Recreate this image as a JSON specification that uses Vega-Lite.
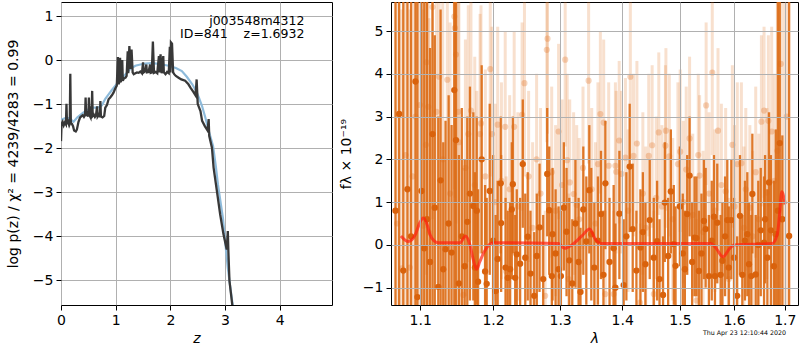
{
"$schema": "https://vega.github.io/schema/vega-lite/v6.json",
"background": "white",
"padding": {"left": 5, "top": 1, "right": 0, "bottom": 0},
"bounds": "flush",
"spacing": 59,
"config": {
 "font": "DejaVu Sans",
 "view": {"stroke": "black", "strokeWidth": 1},
 "axis": {"domain": false, "grid": true, "gridColor": "#b0b0b0", "gridWidth": 1, "tickColor": "black", "tickSize": 5, "tickWidth": 1, "labelFontSize": 14, "labelColor": "black", "labelPadding": 3, "titleFontSize": 14, "titleFontWeight": "normal", "titleColor": "black", "labelFlush": false, "labelOverlap": false}
},
"datasets": {
 "blue": [
  {"z":0.00,"lp":-1.35},{"z":0.08,"lp":-1.32},{"z":0.15,"lp":-1.32},{"z":0.23,"lp":-1.40},{"z":0.30,"lp":-1.30},{"z":0.40,"lp":-1.20},{"z":0.50,"lp":-1.12},{"z":0.57,"lp":-1.08},{"z":0.65,"lp":-1.08},{"z":0.72,"lp":-1.06},{"z":0.75,"lp":-1.02},{"z":0.81,"lp":-0.88},{"z":0.87,"lp":-0.78},{"z":0.93,"lp":-0.68},{"z":0.99,"lp":-0.59},{"z":1.08,"lp":-0.45},{"z":1.18,"lp":-0.32},{"z":1.27,"lp":-0.20},{"z":1.36,"lp":-0.13},{"z":1.45,"lp":-0.10},{"z":1.54,"lp":-0.08},{"z":1.65,"lp":-0.07},{"z":1.75,"lp":-0.08},{"z":1.85,"lp":-0.10},{"z":1.97,"lp":-0.13},{"z":2.10,"lp":-0.18},{"z":2.21,"lp":-0.25},{"z":2.30,"lp":-0.38},{"z":2.40,"lp":-0.55},{"z":2.47,"lp":-0.70},{"z":2.52,"lp":-0.85},{"z":2.58,"lp":-1.05},{"z":2.64,"lp":-1.31},{"z":2.70,"lp":-1.60},{"z":2.78,"lp":-1.95},{"z":2.83,"lp":-2.40},{"z":2.87,"lp":-2.83},{"z":2.92,"lp":-3.25},{"z":2.96,"lp":-3.58},{"z":3.00,"lp":-4.10},{"z":3.05,"lp":-4.72},{"z":3.10,"lp":-5.20},{"z":3.16,"lp":-5.75}
 ],
 "pz": [
  {"z":0.00,"lp":-1.84},{"z":0.01,"lp":-1.45},{"z":0.03,"lp":-1.40},{"z":0.05,"lp":-1.48},{"z":0.07,"lp":-1.42},{"z":0.09,"lp":-1.46},{"z":0.10,"lp":-0.99},{"z":0.11,"lp":-1.45},{"z":0.13,"lp":-1.40},{"z":0.15,"lp":-1.48},{"z":0.16,"lp":-1.45},{"z":0.17,"lp":-0.31},{"z":0.18,"lp":-1.42},{"z":0.20,"lp":-1.45},{"z":0.22,"lp":-1.50},{"z":0.24,"lp":-1.60},{"z":0.27,"lp":-1.62},{"z":0.29,"lp":-1.58},{"z":0.32,"lp":-1.40},{"z":0.35,"lp":-1.30},{"z":0.38,"lp":-1.27},{"z":0.40,"lp":-1.25},{"z":0.42,"lp":-1.29},{"z":0.44,"lp":-1.25},{"z":0.45,"lp":-0.85},{"z":0.46,"lp":-1.27},{"z":0.48,"lp":-1.22},{"z":0.50,"lp":-1.28},{"z":0.51,"lp":-0.85},{"z":0.52,"lp":-1.25},{"z":0.54,"lp":-1.30},{"z":0.55,"lp":-1.05},{"z":0.56,"lp":-1.26},{"z":0.57,"lp":-0.70},{"z":0.58,"lp":-1.27},{"z":0.60,"lp":-1.24},{"z":0.62,"lp":-1.29},{"z":0.64,"lp":-1.25},{"z":0.66,"lp":-1.05},{"z":0.67,"lp":-1.28},{"z":0.69,"lp":-1.24},{"z":0.71,"lp":-1.29},{"z":0.72,"lp":-0.93},{"z":0.73,"lp":-1.28},{"z":0.76,"lp":-1.30},{"z":0.79,"lp":-1.27},{"z":0.81,"lp":-1.08},{"z":0.84,"lp":-1.02},{"z":0.87,"lp":-0.89},{"z":0.90,"lp":-0.85},{"z":0.93,"lp":-0.80},{"z":0.96,"lp":-0.74},{"z":0.99,"lp":-0.65},{"z":1.02,"lp":-0.58},{"z":1.04,"lp":0.07},{"z":1.05,"lp":-0.55},{"z":1.07,"lp":-0.50},{"z":1.08,"lp":0.05},{"z":1.09,"lp":-0.50},{"z":1.11,"lp":-0.45},{"z":1.12,"lp":0.00},{"z":1.13,"lp":-0.47},{"z":1.15,"lp":-0.42},{"z":1.18,"lp":-0.40},{"z":1.20,"lp":-0.36},{"z":1.22,"lp":0.20},{"z":1.23,"lp":-0.30},{"z":1.25,"lp":0.32},{"z":1.27,"lp":-0.20},{"z":1.29,"lp":0.24},{"z":1.31,"lp":-0.28},{"z":1.33,"lp":-0.32},{"z":1.36,"lp":-0.30},{"z":1.39,"lp":-0.28},{"z":1.42,"lp":-0.29},{"z":1.45,"lp":-0.26},{"z":1.48,"lp":-0.30},{"z":1.50,"lp":-0.05},{"z":1.51,"lp":-0.28},{"z":1.54,"lp":-0.25},{"z":1.56,"lp":-0.10},{"z":1.57,"lp":-0.28},{"z":1.60,"lp":-0.27},{"z":1.63,"lp":-0.10},{"z":1.64,"lp":-0.29},{"z":1.66,"lp":-0.28},{"z":1.68,"lp":0.42},{"z":1.70,"lp":-0.29},{"z":1.73,"lp":-0.27},{"z":1.76,"lp":-0.30},{"z":1.79,"lp":0.09},{"z":1.80,"lp":-0.28},{"z":1.82,"lp":0.13},{"z":1.84,"lp":-0.30},{"z":1.87,"lp":0.09},{"z":1.88,"lp":-0.28},{"z":1.91,"lp":-0.32},{"z":1.94,"lp":-0.27},{"z":1.97,"lp":-0.30},{"z":1.99,"lp":0.30},{"z":2.00,"lp":-0.28},{"z":2.01,"lp":0.40},{"z":2.03,"lp":0.37},{"z":2.05,"lp":-0.28},{"z":2.07,"lp":-0.32},{"z":2.10,"lp":-0.36},{"z":2.15,"lp":-0.40},{"z":2.20,"lp":-0.44},{"z":2.27,"lp":-0.47},{"z":2.33,"lp":-0.55},{"z":2.37,"lp":-0.63},{"z":2.42,"lp":-0.72},{"z":2.46,"lp":-0.80},{"z":2.48,"lp":-0.44},{"z":2.50,"lp":-1.00},{"z":2.55,"lp":-1.16},{"z":2.58,"lp":-1.38},{"z":2.63,"lp":-1.50},{"z":2.68,"lp":-1.60},{"z":2.70,"lp":-1.34},{"z":2.71,"lp":-1.72},{"z":2.76,"lp":-1.99},{"z":2.79,"lp":-2.44},{"z":2.85,"lp":-2.97},{"z":2.91,"lp":-3.50},{"z":2.97,"lp":-3.95},{"z":3.01,"lp":-4.18},{"z":3.03,"lp":-4.30},{"z":3.05,"lp":-3.88},{"z":3.06,"lp":-4.33},{"z":3.08,"lp":-5.01},{"z":3.13,"lp":-5.54},{"z":3.16,"lp":-5.90}
 ],
 "light": [
  {"l":1.07,"f":0.5,"lo":-5.5,"hi":6.5},{"l":1.076,"f":-0.55,"lo":-6.5,"hi":5.5},{"l":1.081,"f":2.1,"lo":-3.9,"hi":8.1},{"l":1.0865,"f":-0.53,"lo":-6.5,"hi":5.5},{"l":1.09,"f":1.6,"lo":-4.4,"hi":7.6},{"l":1.0938,"f":3,"lo":-3,"hi":9},{"l":1.0996,"f":3.27,"lo":-2.7,"hi":9.3},{"l":1.104,"f":0.45,"lo":-4.5,"hi":5.5},{"l":1.1075,"f":2.34,"lo":-2.7,"hi":7.3},{"l":1.1083,"f":4.27,"lo":-0.7,"hi":9.3},{"l":1.1106,"f":3.23,"lo":-1.8,"hi":8.2},{"l":1.1115,"f":0.29,"lo":-4.7,"hi":5.3},{"l":1.1163,"f":5.56,"lo":0.6,"hi":10.6},{"l":1.1216,"f":3.11,"lo":-0.9,"hi":7.1},{"l":1.1252,"f":3.93,"lo":-0.1,"hi":7.9},{"l":1.13,"f":2,"lo":-2,"hi":6},{"l":1.1362,"f":3.86,"lo":-0.1,"hi":7.9},{"l":1.14,"f":1.2,"lo":-2.8,"hi":5.2},{"l":1.1457,"f":5.34,"lo":1.3,"hi":9.3},{"l":1.1465,"f":5.07,"lo":1.1,"hi":9.1},{"l":1.148,"f":4.45,"lo":0.5,"hi":8.5},{"l":1.1512,"f":3.11,"lo":-0.9,"hi":7.1},{"l":1.152,"f":2.4,"lo":-1.6,"hi":6.4},{"l":1.1581,"f":-1.17,"lo":-4.2,"hi":1.8},{"l":1.161,"f":1.8,"lo":-1.2,"hi":4.8},{"l":1.165,"f":2.59,"lo":-0.4,"hi":5.6},{"l":1.1687,"f":3.14,"lo":0.1,"hi":6.1},{"l":1.174,"f":1.4,"lo":-1.6,"hi":4.4},{"l":1.1768,"f":0.78,"lo":-2,"hi":3.6},{"l":1.1815,"f":2.59,"lo":-0.2,"hi":5.4},{"l":1.1828,"f":2.84,"lo":0,"hi":5.6},{"l":1.189,"f":1.6,"lo":-0.9,"hi":4.1},{"l":1.196,"f":4.11,"lo":1.6,"hi":6.6},{"l":1.1985,"f":2.59,"lo":0.1,"hi":5.1},{"l":1.203,"f":1,"lo":-1.3,"hi":3.3},{"l":1.2066,"f":2.81,"lo":0.5,"hi":5.1},{"l":1.212,"f":1.5,"lo":-0.8,"hi":3.8},{"l":1.2175,"f":2.76,"lo":0.6,"hi":5},{"l":1.219,"f":-0.62,"lo":-2.8,"hi":1.6},{"l":1.224,"f":1.3,"lo":-0.9,"hi":3.5},{"l":1.2306,"f":2.76,"lo":0.6,"hi":5},{"l":1.236,"f":0.9,"lo":-1.3,"hi":3.1},{"l":1.2423,"f":3.04,"lo":0.8,"hi":5.2},{"l":1.2458,"f":3.78,"lo":1.6,"hi":6},{"l":1.252,"f":1.6,"lo":-0.4,"hi":3.6},{"l":1.258,"f":0.4,"lo":-1.6,"hi":2.4},{"l":1.264,"f":2,"lo":0,"hi":4},{"l":1.27,"f":1.2,"lo":-0.8,"hi":3.2},{"l":1.277,"f":-1.19,"lo":-3.2,"hi":0.8},{"l":1.2795,"f":4.56,"lo":2.4,"hi":6.8},{"l":1.2806,"f":4.82,"lo":2.6,"hi":7},{"l":1.287,"f":1.7,"lo":-0.3,"hi":3.7},{"l":1.293,"f":0.8,"lo":-1.2,"hi":2.8},{"l":1.2976,"f":2.65,"lo":0.6,"hi":4.7},{"l":1.303,"f":1.4,"lo":-0.6,"hi":3.4},{"l":1.3079,"f":4.33,"lo":2.3,"hi":6.3},{"l":1.311,"f":1.98,"lo":0,"hi":4},{"l":1.3132,"f":-0.8,"lo":-2.8,"hi":1.2},{"l":1.315,"f":1.46,"lo":-0.4,"hi":3.4},{"l":1.3211,"f":1.19,"lo":-0.7,"hi":3.1},{"l":1.326,"f":0.93,"lo":-1,"hi":2.8},{"l":1.33,"f":0.6,"lo":-1.3,"hi":2.5},{"l":1.336,"f":1.8,"lo":-0.1,"hi":3.7},{"l":1.345,"f":3.84,"lo":1.9,"hi":5.7},{"l":1.35,"f":1.3,"lo":-0.6,"hi":3.2},{"l":1.356,"f":0.5,"lo":-1.4,"hi":2.4},{"l":1.36,"f":1.89,"lo":0,"hi":3.8},{"l":1.364,"f":3.06,"lo":1.2,"hi":5},{"l":1.3694,"f":2.86,"lo":1,"hi":4.8},{"l":1.3722,"f":-1.15,"lo":-3,"hi":0.8},{"l":1.3776,"f":1.85,"lo":0,"hi":3.8},{"l":1.3858,"f":-1.15,"lo":-3,"hi":0.8},{"l":1.3887,"f":1.85,"lo":0,"hi":3.8},{"l":1.39,"f":1.71,"lo":-0.2,"hi":3.6},{"l":1.395,"f":2.44,"lo":0.5,"hi":4.3},{"l":1.3988,"f":1.66,"lo":-0.2,"hi":3.6},{"l":1.4054,"f":2.04,"lo":0.1,"hi":3.9},{"l":1.41,"f":0.8,"lo":-1.1,"hi":2.7},{"l":1.4137,"f":3.93,"lo":2,"hi":5.8},{"l":1.419,"f":2.08,"lo":0.2,"hi":4},{"l":1.4248,"f":2.37,"lo":0.5,"hi":4.3},{"l":1.43,"f":-1.35,"lo":-3.2,"hi":0.5},{"l":1.435,"f":1.2,"lo":-0.7,"hi":3.1},{"l":1.44,"f":0.4,"lo":-1.5,"hi":2.3},{"l":1.4451,"f":2.08,"lo":0.2,"hi":4},{"l":1.451,"f":2.33,"lo":0.4,"hi":4.2},{"l":1.4538,"f":-1.15,"lo":-3,"hi":0.8},{"l":1.458,"f":1.1,"lo":-0.8,"hi":3},{"l":1.4625,"f":2.63,"lo":0.7,"hi":4.5},{"l":1.468,"f":0.9,"lo":-1,"hi":2.8},{"l":1.4742,"f":2.32,"lo":0.4,"hi":4.2},{"l":1.475,"f":2.67,"lo":0.8,"hi":4.6},{"l":1.481,"f":2.07,"lo":0.2,"hi":4},{"l":1.487,"f":0.6,"lo":-1.3,"hi":2.5},{"l":1.4963,"f":1.89,"lo":0,"hi":3.8},{"l":1.5004,"f":2.18,"lo":0.3,"hi":4.1},{"l":1.506,"f":1,"lo":-0.9,"hi":2.9},{"l":1.5112,"f":1.76,"lo":-0.1,"hi":3.7},{"l":1.5173,"f":2.49,"lo":0.6,"hi":4.4},{"l":1.523,"f":0.7,"lo":-1.2,"hi":2.6},{"l":1.53,"f":-1.3,"lo":-3.2,"hi":0.6},{"l":1.5331,"f":2.1,"lo":0.2,"hi":4},{"l":1.5356,"f":1.62,"lo":-0.3,"hi":3.5},{"l":1.542,"f":0.3,"lo":-1.6,"hi":2.2},{"l":1.5476,"f":3.26,"lo":1.4,"hi":5.2},{"l":1.553,"f":1.2,"lo":-0.7,"hi":3.1},{"l":1.559,"f":4.03,"lo":2.1,"hi":5.9},{"l":1.564,"f":0.8,"lo":-1.1,"hi":2.7},{"l":1.5697,"f":2.67,"lo":0.8,"hi":4.6},{"l":1.576,"f":1.4,"lo":-0.5,"hi":3.3},{"l":1.5841,"f":1.25,"lo":-0.6,"hi":3.2},{"l":1.59,"f":-0.8,"lo":-2.7,"hi":1.1},{"l":1.5968,"f":2.34,"lo":0.4,"hi":4.2},{"l":1.601,"f":0.9,"lo":-1,"hi":2.8},{"l":1.6063,"f":1.89,"lo":0,"hi":3.8},{"l":1.6141,"f":1.91,"lo":0,"hi":3.8},{"l":1.619,"f":0.4,"lo":-1.5,"hi":2.3},{"l":1.6226,"f":1.3,"lo":-0.6,"hi":3.2},{"l":1.6305,"f":0.87,"lo":-1,"hi":2.8},{"l":1.636,"f":0.2,"lo":-1.8,"hi":2.2},{"l":1.642,"f":1.7,"lo":-0.3,"hi":3.7},{"l":1.648,"f":0.6,"lo":-1.4,"hi":2.6},{"l":1.6532,"f":2.88,"lo":0.9,"hi":4.9},{"l":1.6584,"f":3.14,"lo":1.1,"hi":5.1},{"l":1.664,"f":1.22,"lo":-0.8,"hi":3.2},{"l":1.667,"f":2.9,"lo":0.9,"hi":4.9},{"l":1.6736,"f":2.65,"lo":0.2,"hi":5.1},{"l":1.679,"f":1.5,"lo":-1,"hi":4},{"l":1.685,"f":2.2,"lo":-2.8,"hi":7.2},{"l":1.6918,"f":4.23,"lo":-1.8,"hi":10.2},{"l":1.698,"f":1,"lo":-5,"hi":7},{"l":1.704,"f":3,"lo":-3,"hi":9}
 ],
 "dark": [
  {"l":1.068,"f":0.8,"lo":-7.2,"hi":8.8},{"l":1.0727,"f":3.06,"lo":-5,"hi":11},{"l":1.078,"f":-0.6,"lo":-8.6,"hi":7.4},{"l":1.0834,"f":1.3,"lo":-6.7,"hi":9.3},{"l":1.088,"f":0.2,"lo":-7.8,"hi":8.2},{"l":1.0938,"f":3.82,"lo":-4.2,"hi":11.8},{"l":1.0964,"f":-1.22,"lo":-9.2,"hi":6.8},{"l":1.1017,"f":1.26,"lo":-4.7,"hi":7.3},{"l":1.1053,"f":-0.08,"lo":-6.1,"hi":5.9},{"l":1.109,"f":0.6,"lo":-5.4,"hi":6.6},{"l":1.113,"f":-0.4,"lo":-5.4,"hi":4.6},{"l":1.1163,"f":2.59,"lo":-2.4,"hi":7.6},{"l":1.1193,"f":0.87,"lo":-3.1,"hi":4.9},{"l":1.124,"f":-0.98,"lo":-5,"hi":3},{"l":1.1271,"f":1.51,"lo":-2.5,"hi":5.5},{"l":1.1307,"f":-0.57,"lo":-3.6,"hi":2.4},{"l":1.1338,"f":-0.1,"lo":-3.1,"hi":2.9},{"l":1.138,"f":0.5,"lo":-2.5,"hi":3.5},{"l":1.142,"f":-0.18,"lo":-3.2,"hi":2.8},{"l":1.1457,"f":3.62,"lo":-2.4,"hi":9.6},{"l":1.148,"f":2.45,"lo":-1.6,"hi":6.5},{"l":1.152,"f":-0.9,"lo":-3.9,"hi":2.1},{"l":1.156,"f":0.2,"lo":-2.8,"hi":3.2},{"l":1.16,"f":-0.5,"lo":-3,"hi":2},{"l":1.1636,"f":0.54,"lo":-2,"hi":3},{"l":1.1673,"f":1.2,"lo":-1.3,"hi":3.7},{"l":1.172,"f":0.91,"lo":-1.3,"hi":3.1},{"l":1.1743,"f":-0.53,"lo":-2.7,"hi":1.7},{"l":1.1768,"f":0.8,"lo":-1.4,"hi":3},{"l":1.1787,"f":-0.86,"lo":-3.1,"hi":1.3},{"l":1.1838,"f":2,"lo":-0.2,"hi":4.2},{"l":1.1886,"f":-0.62,"lo":-2.6,"hi":1.4},{"l":1.1909,"f":-0.91,"lo":-2.9,"hi":1.1},{"l":1.1952,"f":1.26,"lo":-0.7,"hi":3.3},{"l":1.2,"f":0.1,"lo":-1.9,"hi":2.1},{"l":1.2037,"f":-1.08,"lo":-2.9,"hi":0.7},{"l":1.2066,"f":-0.33,"lo":-2.1,"hi":1.5},{"l":1.211,"f":1.44,"lo":-0.2,"hi":3},{"l":1.2116,"f":0.51,"lo":-1.1,"hi":2.1},{"l":1.218,"f":-0.53,"lo":-2.1,"hi":1.1},{"l":1.2212,"f":-0.77,"lo":-2.4,"hi":0.8},{"l":1.2247,"f":-0.57,"lo":-2.2,"hi":1},{"l":1.2271,"f":0.83,"lo":-0.8,"hi":2.4},{"l":1.2286,"f":1.42,"lo":-0.2,"hi":3},{"l":1.2321,"f":-0.77,"lo":-2.3,"hi":0.7},{"l":1.2344,"f":-0.22,"lo":-1.7,"hi":1.3},{"l":1.2394,"f":-0.44,"lo":-1.9,"hi":1.1},{"l":1.2433,"f":1.89,"lo":0.4,"hi":3.4},{"l":1.247,"f":-0.3,"lo":-1.8,"hi":1.2},{"l":1.2507,"f":0.19,"lo":-1.3,"hi":1.7},{"l":1.2548,"f":-0.67,"lo":-2.2,"hi":0.8},{"l":1.2604,"f":-1.19,"lo":-2.7,"hi":0.3},{"l":1.2643,"f":-0.26,"lo":-1.8,"hi":1.2},{"l":1.2684,"f":0.41,"lo":-1.1,"hi":1.9},{"l":1.274,"f":-0.8,"lo":-2.3,"hi":0.7},{"l":1.2801,"f":1.66,"lo":0.2,"hi":3.2},{"l":1.2832,"f":0.81,"lo":-0.7,"hi":2.3},{"l":1.2872,"f":-0.73,"lo":-2.2,"hi":0.8},{"l":1.2883,"f":0.25,"lo":-1.3,"hi":1.8},{"l":1.293,"f":-0.2,"lo":-1.7,"hi":1.3},{"l":1.2976,"f":-0.57,"lo":-2.1,"hi":0.9},{"l":1.3012,"f":-0.73,"lo":-2.2,"hi":0.8},{"l":1.3058,"f":0.87,"lo":-0.6,"hi":2.4},{"l":1.31,"f":0.31,"lo":-1.2,"hi":1.8},{"l":1.3143,"f":-0.36,"lo":-1.9,"hi":1.1},{"l":1.319,"f":-0.9,"lo":-2.4,"hi":0.6},{"l":1.324,"f":0.5,"lo":-1,"hi":2},{"l":1.329,"f":-0.4,"lo":-1.9,"hi":1.1},{"l":1.332,"f":-1.1,"lo":-2.6,"hi":0.4},{"l":1.3365,"f":0.83,"lo":-0.7,"hi":2.3},{"l":1.3413,"f":0.08,"lo":-1.4,"hi":1.6},{"l":1.3461,"f":1.28,"lo":-0.2,"hi":2.8},{"l":1.3493,"f":0.25,"lo":-1.3,"hi":1.8},{"l":1.3542,"f":-0.53,"lo":-2,"hi":1},{"l":1.36,"f":0.1,"lo":-1.4,"hi":1.6},{"l":1.365,"f":0.72,"lo":-0.8,"hi":2.2},{"l":1.369,"f":-0.7,"lo":-2.2,"hi":0.8},{"l":1.3722,"f":1.44,"lo":-0.1,"hi":2.9},{"l":1.379,"f":-0.4,"lo":-1.9,"hi":1.1},{"l":1.3858,"f":-0.08,"lo":-1.6,"hi":1.4},{"l":1.3887,"f":-1,"lo":-2.5,"hi":0.5},{"l":1.3953,"f":0.73,"lo":-0.8,"hi":2.2},{"l":1.4025,"f":-0.94,"lo":-2.4,"hi":0.6},{"l":1.407,"f":0.2,"lo":-1.3,"hi":1.7},{"l":1.4126,"f":1.83,"lo":0.3,"hi":3.3},{"l":1.4177,"f":0.37,"lo":-1.1,"hi":1.9},{"l":1.424,"f":-0.6,"lo":-2,"hi":0.8},{"l":1.4308,"f":-0.06,"lo":-1.5,"hi":1.3},{"l":1.435,"f":0.3,"lo":-1.1,"hi":1.7},{"l":1.4394,"f":-0.45,"lo":-1.9,"hi":1},{"l":1.4468,"f":0.58,"lo":-0.8,"hi":2},{"l":1.4538,"f":-0.3,"lo":-1.7,"hi":1.1},{"l":1.4596,"f":0.09,"lo":-1.3,"hi":1.5},{"l":1.4638,"f":-0.8,"lo":-2.2,"hi":0.6},{"l":1.47,"f":-1.17,"lo":-2.6,"hi":0.2},{"l":1.4731,"f":0.99,"lo":-0.4,"hi":2.4},{"l":1.479,"f":-0.26,"lo":-1.7,"hi":1.1},{"l":1.4837,"f":1.25,"lo":-0.2,"hi":2.7},{"l":1.489,"f":0.02,"lo":-1.4,"hi":1.4},{"l":1.4921,"f":-0.49,"lo":-1.9,"hi":0.9},{"l":1.4998,"f":0.9,"lo":-0.5,"hi":2.3},{"l":1.505,"f":-0.2,"lo":-1.6,"hi":1.2},{"l":1.5088,"f":-0.57,"lo":-2,"hi":0.8},{"l":1.513,"f":0.72,"lo":-0.7,"hi":2.1},{"l":1.5173,"f":1.62,"lo":0.2,"hi":3},{"l":1.522,"f":-0.4,"lo":-1.8,"hi":1},{"l":1.5264,"f":0.17,"lo":-1.2,"hi":1.6},{"l":1.5299,"f":0.16,"lo":-1.2,"hi":1.6},{"l":1.5343,"f":-0.61,"lo":-2,"hi":0.8},{"l":1.539,"f":-0.2,"lo":-1.6,"hi":1.2},{"l":1.5435,"f":0.56,"lo":-0.8,"hi":2},{"l":1.5467,"f":0.37,"lo":-1,"hi":1.8},{"l":1.5527,"f":-0.73,"lo":-2.1,"hi":0.7},{"l":1.558,"f":0.1,"lo":-1.3,"hi":1.5},{"l":1.5621,"f":0.66,"lo":-0.7,"hi":2.1},{"l":1.564,"f":-0.73,"lo":-2.1,"hi":0.7},{"l":1.5683,"f":0.52,"lo":-0.9,"hi":1.9},{"l":1.5746,"f":-0.7,"lo":-2.1,"hi":0.7},{"l":1.578,"f":-0.37,"lo":-1.8,"hi":1},{"l":1.583,"f":0.2,"lo":-1.2,"hi":1.6},{"l":1.5872,"f":0.58,"lo":-0.8,"hi":2},{"l":1.59,"f":-0.53,"lo":-1.9,"hi":0.9},{"l":1.5948,"f":0.58,"lo":-0.8,"hi":2},{"l":1.6,"f":-0.3,"lo":-1.7,"hi":1.1},{"l":1.606,"f":-1.19,"lo":-2.6,"hi":0.2},{"l":1.6114,"f":0.68,"lo":-0.7,"hi":2.1},{"l":1.6159,"f":-0.7,"lo":-2.1,"hi":0.7},{"l":1.621,"f":0.1,"lo":-1.3,"hi":1.5},{"l":1.6256,"f":0.25,"lo":-1.2,"hi":1.7},{"l":1.6289,"f":-0.45,"lo":-1.9,"hi":1},{"l":1.6333,"f":-0.73,"lo":-2.1,"hi":0.7},{"l":1.6354,"f":1.19,"lo":-0.2,"hi":2.6},{"l":1.642,"f":-0.69,"lo":-2.1,"hi":0.7},{"l":1.647,"f":0,"lo":-1.5,"hi":1.5},{"l":1.6519,"f":0.34,"lo":-1.2,"hi":1.8},{"l":1.6584,"f":0.05,"lo":-1.5,"hi":1.6},{"l":1.6604,"f":0.6,"lo":-0.9,"hi":2.1},{"l":1.665,"f":-0.3,"lo":-1.9,"hi":1.3},{"l":1.6683,"f":1.46,"lo":-0.1,"hi":3.1},{"l":1.672,"f":0.34,"lo":-1.5,"hi":2.1},{"l":1.678,"f":-0.5,"lo":-2.5,"hi":1.5},{"l":1.6818,"f":0.25,"lo":-2.2,"hi":2.7},{"l":1.686,"f":0.8,"lo":-4.2,"hi":5.8},{"l":1.6898,"f":2.38,"lo":-5.6,"hi":10.4},{"l":1.695,"f":0.6,"lo":-1.6,"hi":2.56},{"l":1.7088,"f":0.21,"lo":-7.8,"hi":8.2}
 ],
 "model": [
  {"l":1.0749,"f":0.21},{"l":1.0843,"f":0.08},{"l":1.0938,"f":0.25},{"l":1.099,"f":0.5},{"l":1.104,"f":0.63},{"l":1.109,"f":0.48},{"l":1.1128,"f":0.25},{"l":1.118,"f":0.1},{"l":1.124,"f":0.05},{"l":1.1535,"f":0.05},{"l":1.1613,"f":0.21},{"l":1.1673,"f":0.0},{"l":1.172,"f":-0.35},{"l":1.1767,"f":-0.57},{"l":1.181,"f":-0.4},{"l":1.1862,"f":-0.2},{"l":1.1957,"f":0.02},{"l":1.2004,"f":0.05},{"l":1.2976,"f":0.03},{"l":1.3069,"f":-0.08},{"l":1.3184,"f":0.0},{"l":1.3343,"f":0.21},{"l":1.3466,"f":0.37},{"l":1.3558,"f":0.13},{"l":1.3666,"f":0.03},{"l":1.5559,"f":0.03},{"l":1.5652,"f":-0.06},{"l":1.579,"f":-0.28},{"l":1.5904,"f":-0.1},{"l":1.5999,"f":0.0},{"l":1.6747,"f":0.03},{"l":1.6848,"f":0.25},{"l":1.6895,"f":0.72},{"l":1.6939,"f":1.24},{"l":1.7006,"f":0.95}
 ]
},
"hconcat": [
 {
  "width": 271, "height": 303,
  "layer": [
   {"data": {"name": "blue"}, "mark": {"type": "line", "color": "#8ebbdb", "strokeWidth": 2.2, "clip": true},
    "encoding": {
     "x": {"field": "z", "type": "quantitative", "scale": {"domain": [0, 4.955], "nice": false, "zero": false}, "axis": {"values": [0,1,2,3,4], "title": "z", "titleFontStyle": "italic"}},
     "y": {"field": "lp", "type": "quantitative", "scale": {"domain": [-5.56, 1.318], "nice": false, "zero": false}, "axis": {"values": [-5,-4,-3,-2,-1,0,1], "title": "log p(z) / χ² = 4239/4283 = 0.99", "titlePadding": 12}}
    }},
   {"data": {"name": "pz"}, "mark": {"type": "line", "color": "#383838", "strokeWidth": 2.3, "clip": true},
    "encoding": {"x": {"field": "z", "type": "quantitative"}, "y": {"field": "lp", "type": "quantitative"}}},
   {"data": {"values": [{"t": "j003548m4312\nID=841\u00a0\u00a0\u00a0\u00a0z=1.6932"}]},
    "mark": {"type": "text", "align": "right", "baseline": "top", "fontSize": 12.5, "lineBreak": "\n", "lineHeight": 13.5, "color": "black"},
    "encoding": {"text": {"field": "t"}, "x": {"datum": 4.45}, "y": {"datum": 1.03}}}
  ]
 },
 {
  "width": 407, "height": 303,
  "title": {"text": "Thu Apr 23 12:10:44 2020", "orient": "bottom", "anchor": "end", "frame": "group", "fontSize": 6.3, "fontWeight": "normal", "color": "black", "offset": -15, "dx": -12},
  "encoding": {
   "x": {"field": "l", "type": "quantitative", "scale": {"type": "log", "domain": [1.0623, 1.727], "nice": false, "zero": false}, "axis": {"values": [1.1,1.2,1.3,1.4,1.5,1.6,1.7], "format": ".1f", "title": "λ", "titleFontStyle": "italic", "zindex": 1}},
   "y": {"field": "f", "type": "quantitative", "scale": {"domain": [-1.405, 5.678], "nice": false, "zero": false}, "axis": {"values": [-1,0,1,2,3,4,5], "title": "fλ × 10⁻¹⁹", "titlePadding": 9, "zindex": 1}}
  },
  "layer": [
   {"data": {"name": "light"}, "mark": {"type": "rule", "color": "#e07020", "opacity": 0.22, "strokeWidth": 3, "clip": true},
    "encoding": {"y": {"field": "lo", "type": "quantitative"}, "y2": {"field": "hi"}}},
   {"data": {"name": "light"}, "mark": {"type": "circle", "color": "#e07020", "opacity": 0.3, "size": 38, "clip": true}, "encoding": {}},
   {"data": {"name": "dark"}, "mark": {"type": "rule", "color": "#dc6a14", "opacity": 0.9, "strokeWidth": 2.3, "clip": true},
    "encoding": {"y": {"field": "lo", "type": "quantitative"}, "y2": {"field": "hi"}}},
   {"data": {"name": "dark"}, "mark": {"type": "circle", "color": "#d9620c", "opacity": 1, "size": 40, "clip": true}, "encoding": {}},
   {"data": {"name": "model"}, "mark": {"type": "line", "color": "#ff2010", "opacity": 0.7, "strokeWidth": 3, "interpolate": "monotone", "clip": true}, "encoding": {}},
   {"mark": {"type": "rule", "color": "black", "strokeDash": [2, 3], "strokeWidth": 1.8}, "encoding": {"x": null, "y": {"datum": 0}}}
  ]
 }
]
}
